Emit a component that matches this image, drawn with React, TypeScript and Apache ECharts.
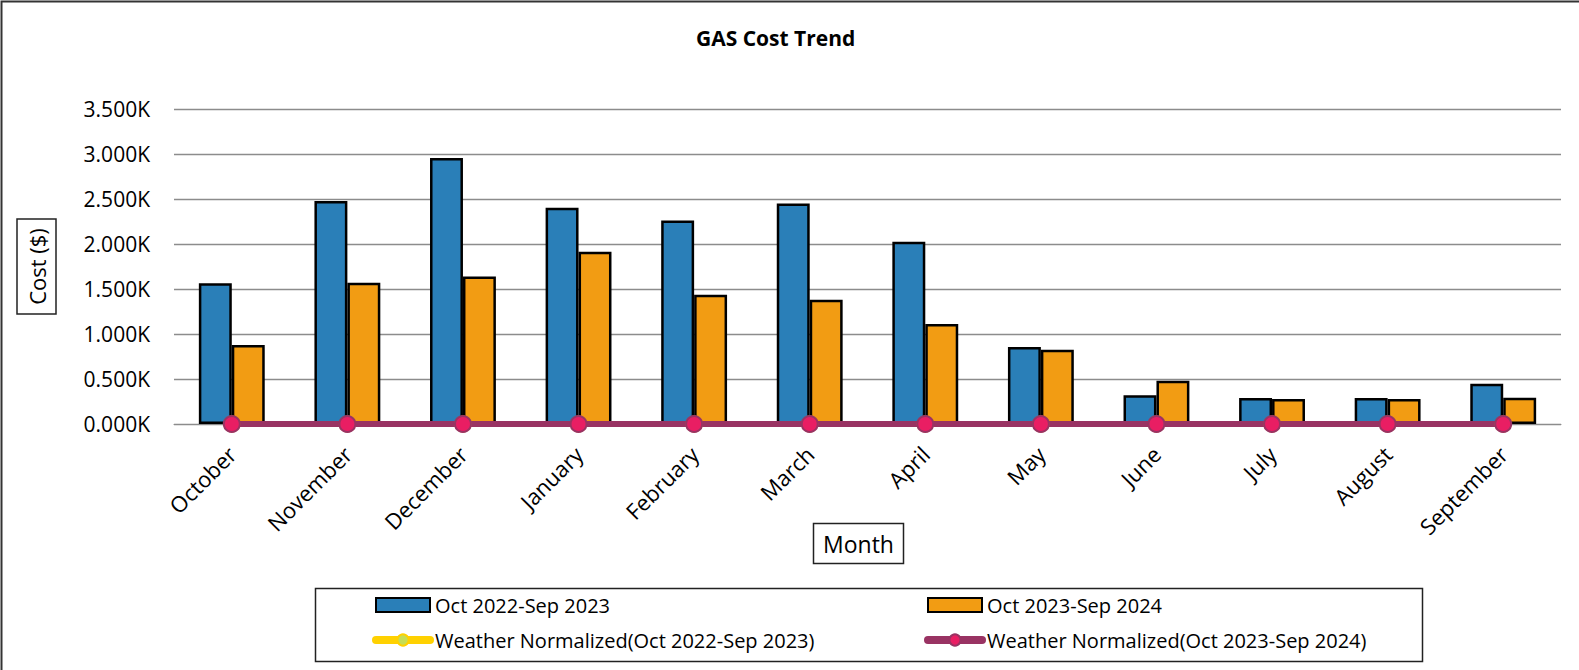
import React, { useEffect, useRef } from "react";
import * as echarts from "echarts";

const months = ["October", "November", "December", "January", "February", "March", "April", "May", "June", "July", "August", "September"];
const costPrev = [1565, 2478, 2956, 2403, 2260, 2450, 2026, 855, 320, 290, 290, 448];
const costCurr = [877, 1570, 1640, 1914, 1437, 1381, 1111, 826, 481, 278, 278, 292];
const wnPrev = [0, 0, 0, 0, 0, 0, 0, 0, 0, 0, 0, 0];
const wnCurr = [0, 0, 0, 0, 0, 0, 0, 0, 0, 0, 0, 0];
const seriesNames = [
  "Oct 2022-Sep 2023",
  "Oct 2023-Sep 2024",
  "Weather Normalized(Oct 2022-Sep 2023)",
  "Weather Normalized(Oct 2023-Sep 2024)",
];
const yTicks = { min: 0, max: 3500, interval: 500 };

const FONT = "'Open Sans', 'Noto Sans', sans-serif";

export default function App() {
  const ref = useRef<HTMLDivElement>(null);
  useEffect(() => {
    if (!ref.current) return;
    const chart = echarts.init(ref.current, undefined, { renderer: "svg" });
    const legendBase = {
      orient: "vertical",
      top: 595,
      padding: 0,
      itemWidth: 54,
      itemHeight: 14,
      itemGap: 15,
      textStyle: { fontFamily: FONT, fontSize: 20, color: "#000" },
    };
    chart.setOption({
      animation: false,
      backgroundColor: "#ffffff",
      textStyle: { fontFamily: FONT },
      title: {
        text: "GAS Cost Trend",
        left: 691,
        top: 22,
        textStyle: { fontFamily: FONT, fontSize: 21, fontWeight: "bold", color: "#000" },
      },
      grid: { left: 174, right: 18, top: 109, bottom: 246, containLabel: false },
      legend: [
        {
          ...legendBase,
          left: 372,
          data: [
            { name: seriesNames[0], icon: "rect" },
            { name: seriesNames[2], lineStyle: { width: 8, cap: "round" } },
          ],
        },
        {
          ...legendBase,
          left: 924,
          data: [
            { name: seriesNames[1], icon: "rect" },
            { name: seriesNames[3], lineStyle: { width: 8, cap: "round" } },
          ],
        },
      ],
      xAxis: {
        type: "category",
        data: months,
        axisLine: { show: true, lineStyle: { color: "#8c8c8c", width: 1 } },
        axisTick: { show: false },
        axisLabel: {
          rotate: 45,
          margin: 26,
          interval: 0,
          fontFamily: FONT,
          fontSize: 22,
          color: "#000",
        },
      },
      yAxis: {
        type: "value",
        min: yTicks.min,
        max: yTicks.max,
        interval: yTicks.interval,
        axisLine: { show: false },
        axisTick: { show: false },
        splitLine: { lineStyle: { color: "#8c8c8c", width: 1.3 } },
        axisLabel: {
          margin: 24,
          fontFamily: FONT,
          fontSize: 21,
          color: "#000",
          formatter: (v: number) => (v / 1000).toFixed(3) + "K",
        },
      },
      series: [
        {
          name: seriesNames[0],
          type: "bar",
          data: costPrev,
          barGap: "0%",
          barCategoryGap: "43%",
          itemStyle: { color: "#2a7fb8", borderColor: "#000", borderWidth: 2.5 },
        },
        {
          name: seriesNames[1],
          type: "bar",
          data: costCurr,
          barGap: "0%",
          barCategoryGap: "43%",
          itemStyle: { color: "#f29c13", borderColor: "#000", borderWidth: 2.5 },
        },
        {
          name: seriesNames[2],
          type: "line",
          data: wnPrev,
          symbol: "circle",
          symbolSize: 15,
          lineStyle: { color: "#ffd100", width: 6 },
          itemStyle: { color: "#c6dd55", borderColor: "#ffd100", borderWidth: 2 },
        },
        {
          name: seriesNames[3],
          type: "line",
          data: wnCurr,
          symbol: "circle",
          symbolSize: 16,
          lineStyle: { color: "#993363", width: 6 },
          itemStyle: { color: "#e91e63", borderColor: "#993363", borderWidth: 2 },
        },
      ],
      graphic: [
        {
          type: "rect",
          shape: { x: 1.5, y: 1.5, width: 1620, height: 720 },
          style: { fill: "none", stroke: "#333", lineWidth: 2 },
          silent: true,
        },
        {
          type: "rect",
          shape: { x: 315.5, y: 588.5, width: 1107, height: 73 },
          style: { fill: "none", stroke: "#222", lineWidth: 1.5 },
          silent: true,
        },
        {
          type: "rect",
          shape: { x: 17, y: 219, width: 39, height: 95 },
          style: { fill: "#fff", stroke: "#222", lineWidth: 1.5 },
          silent: true,
        },
        {
          type: "text",
          x: 36.5,
          y: 266.5,
          rotation: Math.PI / 2,
          style: {
            text: "Cost ($)",
            fontFamily: FONT,
            fontSize: 22,
            fill: "#000",
            align: "center",
            verticalAlign: "middle",
          },
          silent: true,
        },
        {
          type: "rect",
          shape: { x: 813.5, y: 523.5, width: 90, height: 40 },
          style: { fill: "#fff", stroke: "#222", lineWidth: 1.5 },
          silent: true,
        },
        {
          type: "text",
          x: 858.5,
          y: 543.5,
          style: {
            text: "Month",
            fontFamily: FONT,
            fontSize: 23,
            fill: "#000",
            align: "center",
            verticalAlign: "middle",
          },
          silent: true,
        },
      ],
    });
    return () => chart.dispose();
  }, []);
  return (
    <div
      ref={ref}
      style={{ position: "fixed", left: 0, top: 0, width: 1579, height: 670, background: "#fff" }}
    />
  );
}
